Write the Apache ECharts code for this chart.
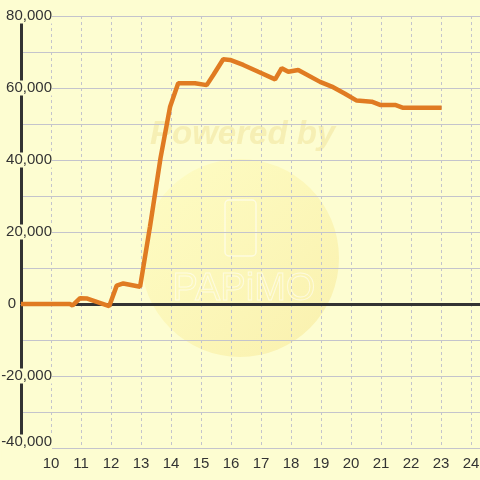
<!DOCTYPE html>
<html>
<head>
<meta charset="utf-8">
<script src="https://cdn.jsdelivr.net/npm/echarts@6/dist/echarts.min.js"></script>
<style>
	html, body { margin: 0; padding: 0; background: #fdfdd1; }
	#chart { width: 480px; height: 480px; }
</style>
</head>
<body>
<div id="chart"></div>
<script>
	// x = hour of day, y = value
	var hours = [9, 10.63, 10.72, 10.97, 11.21, 11.94, 12.19, 12.41, 12.97, 13.3, 13.65, 13.97, 14.24, 14.8, 15.19,
		15.41, 15.74, 15.97, 16.41, 16.91, 17.47, 17.69, 17.91, 18.24, 18.97, 19.36, 19.8, 20.19, 20.69, 20.97,
		21.47, 21.74, 23.02];
	var values = [0, 0, -400, 1600, 1500, -600, 5100, 5700, 4800, 21500, 40500, 54800, 61300, 61300, 60800,
		63600, 68000, 67800, 66400, 64500, 62400, 65500, 64500, 65000, 61700, 60400, 58400, 56500, 56200, 55300,
		55300, 54500, 54500];
	var xTicks = [10, 11, 12, 13, 14, 15, 16, 17, 18, 19, 20, 21, 22, 23, 24];
	var yTicks = [-40000, -20000, 0, 20000, 40000, 60000, 80000];

	var points = hours.map(function(h, i) { return [h, values[i]]; });
	var font = 'Liberation Sans, Arial, sans-serif';
	var bg = '#fdfdd1';

	var option = {
		backgroundColor: bg,
		animation: false,
		grid: {
			left: 21,
			right: 0,
			top: 16,
			bottom: 32,
			outerBoundsMode: 'none'
		},
		graphic: [{
			type: 'circle',
			z: -10,
			silent: true,
			shape: { cx: 240, cy: 258, r: 99 },
			style: {
				fill: new echarts.graphic.LinearGradient(0, 0, 1, 1, [
					{ offset: 0, color: 'rgba(255,250,170,0.35)' },
					{ offset: 1, color: 'rgba(245,225,130,0.45)' }
				])
			}
		}, {
			type: 'rect',
			z: -9,
			silent: true,
			shape: { x: 225, y: 200, width: 31, height: 56, r: 4 },
			style: { fill: 'none', stroke: 'rgba(255,255,255,0.55)', lineWidth: 1.5 }
		}, {
			type: 'text',
			z: -9,
			silent: true,
			left: 172,
			top: 270,
			style: {
				text: 'PAPiMO',
				font: '38px ' + font,
				fill: 'rgba(255,255,255,0)',
				stroke: 'rgba(255,255,255,0.55)',
				lineWidth: 1
			}
		}, {
			type: 'text',
			z: -9,
			silent: true,
			left: 150,
			top: 118,
			style: {
				text: 'Powered by',
				font: 'italic bold 33px ' + font,
				fill: 'rgba(242,230,160,0.6)'
			}
		}],
		xAxis: {
			type: 'value',
			min: 9,
			max: 24.3,
			interval: 1,
			axisLine: { show: true, lineStyle: { color: '#c4c4cc', width: 1 } },
			axisTick: { show: false },
			axisLabel: {
				margin: 8,
				color: '#333',
				fontSize: 15,
				fontFamily: font,
				formatter: function(v) {
					return xTicks.indexOf(v) >= 0 ? String(v) : '';
				}
			},
			splitLine: {
				show: true,
				lineStyle: { color: '#c4c4cc', width: 1, type: [3, 3] }
			}
		},
		yAxis: {
			type: 'value',
			min: -40000,
			max: 80000,
			interval: 10000,
			axisLine: { show: true, lineStyle: { color: '#333', width: 3 } },
			axisTick: { show: false },
			axisLabel: {
				// labels sit inside the plot, right edge near x=52
				margin: -31,
				align: 'right',
				color: '#333',
				fontSize: 15,
				fontFamily: font,
				formatter: function(v) {
					if (yTicks.indexOf(v) < 0) return '';
					var s = v.toLocaleString('en-US');
					if (v === 0) return '{zero|0}';
					if (v === yTicks[0]) return '{low|' + s + '}';
					return '{n|' + s + '}';
				},
				rich: {
					n: {
						color: '#333',
						fontSize: 15,
						fontFamily: font,
						backgroundColor: bg
					},
					zero: {
						color: '#333',
						fontSize: 15,
						fontFamily: font,
						padding: [0, 36, 0, 0]
					},
					low: {
						color: '#333',
						fontSize: 15,
						fontFamily: font,
						backgroundColor: bg,
						padding: [0, 0, 12, 0]
					}
				}
			},
			splitLine: {
				show: true,
				lineStyle: { color: '#c4c4cc', width: 1 }
			}
		},
		series: [{
			type: 'line',
			z: 3,
			data: points,
			showSymbol: false,
			lineStyle: { color: '#e07b22', width: 4.5 },
			itemStyle: { color: '#e07b22' },
			markLine: {
				z: 1,
				silent: true,
				symbol: 'none',
				label: { show: false },
				lineStyle: { color: '#333', width: 3, type: 'solid' },
				data: [{ yAxis: 0 }]
			}
		}]
	};

	var myChart = echarts.init(document.getElementById('chart'));
	myChart.setOption(option);
</script>
</body>
</html>
